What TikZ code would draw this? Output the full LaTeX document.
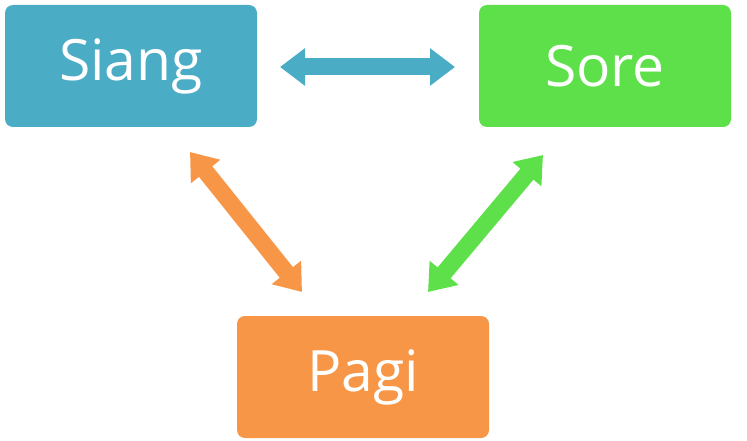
\documentclass[tikz,border=0pt]{standalone}
\usepackage{fontspec}
\setmainfont{Open Sans}
\usetikzlibrary{arrows.meta}
\definecolor{cb}{HTML}{4BACC6}
\definecolor{cg}{HTML}{5EE04A}
\definecolor{co}{HTML}{F79646}
\tikzset{box/.style={rounded corners=8pt,minimum width=252pt,minimum height=122pt,text=white,font=\fontsize{57}{66}\selectfont,inner sep=0pt},
dbl/.style={line width=17pt,{Triangle[width=36pt,length=25pt]}-{Triangle[width=36pt,length=25pt]}}}
\begin{document}
\begin{tikzpicture}[x=1pt,y=-1pt]
\useasboundingbox (0,0) rectangle (747,441);
\node[box,fill=cb] (s) at (131,66) {Siang};
\node[box,fill=cg] (o) at (605,66) {Sore};
\node[box,fill=co] (p) at (363,377) {Pagi};
\coordinate (a1) at (280,67); \coordinate (a2) at (455,67);
\coordinate (b1) at (190,152); \coordinate (b2) at (302,292);
\coordinate (c1) at (543,155); \coordinate (c2) at (428,292);
\draw[dbl,cb] (a1) -- (a2);
\draw[dbl,co] (b1) -- (b2);
\draw[dbl,cg] (c1) -- (c2);
\end{tikzpicture}
\end{document}
